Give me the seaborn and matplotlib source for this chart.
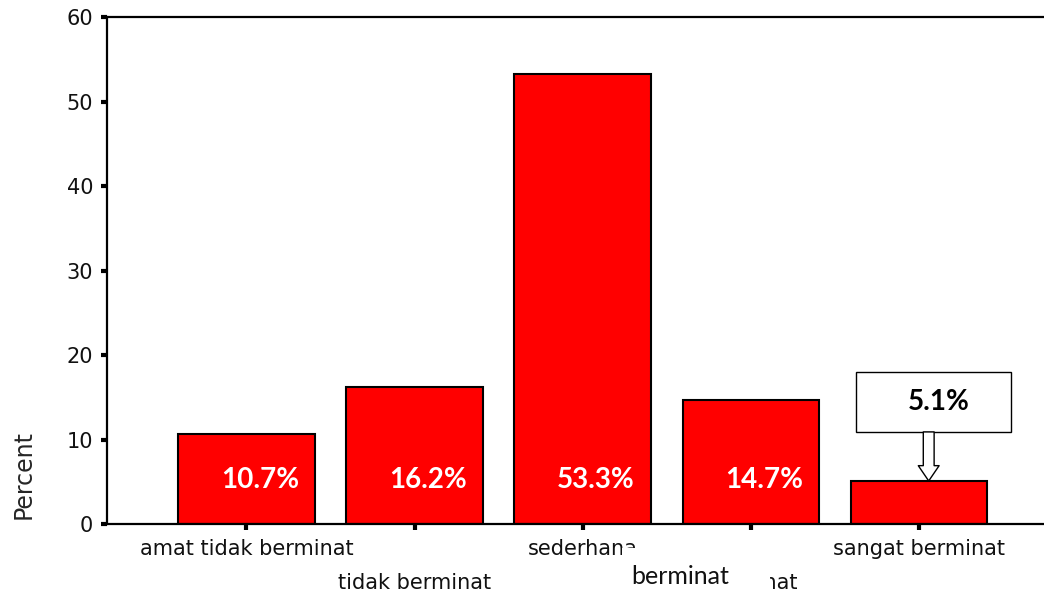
import matplotlib
matplotlib.use("Agg")
import matplotlib.pyplot as plt
import seaborn as sns
import pandas as pd
from matplotlib.patches import Rectangle, FancyArrowPatch

# data
categories = ["amat tidak berminat", "tidak berminat", "sederhana", "berminat", "sangat berminat"]
percent = [10.7, 16.2, 53.3, 14.7, 5.1]
inside_labels = ["10.7%", "16.2%", "53.3%", "14.7%"]
callout_label = "5.1%"
overlay_label = "berminat"

sns.set_style("white")
plt.rcParams['font.family'] = ['DejaVu Sans']

df = pd.DataFrame({"category": categories, "percent": percent})

fig = plt.figure(figsize=(10.44, 5.93), dpi=100)
ax = fig.add_axes([0.1025, 0.1163, 0.911, 0.855])

sns.barplot(data=df, x="category", y="percent", color="#ff0000", saturation=1,
            edgecolor="black", linewidth=1.5, width=0.81, ax=ax)

ax.set_xlim(-0.83, 4.83)
ax.set_ylim(0, 60)
ax.set_yticks(range(0, 61, 10))
ax.set_xlabel("")
ax.set_ylabel("Percent", fontsize=17)
ax.yaxis.set_label_coords(-0.075, 0.097)

for side in ["left", "bottom", "top"]:
    ax.spines[side].set_color("black")
    ax.spines[side].set_linewidth(1.6)
ax.spines["right"].set_visible(False)

ax.tick_params(axis="both", which="major", bottom=True, left=True, direction="out",
               length=4, width=3, color="black", labelsize=15, labelcolor="#111111")
ax.tick_params(axis="y", pad=6)
ax.tick_params(axis="x", pad=6.5)

# stagger the category labels
for i, tick in enumerate(ax.xaxis.get_major_ticks()):
    if i % 2 == 1:
        tick.set_pad(31)

# white percentage labels inside the bars
for i, lab in enumerate(inside_labels):
    ax.text(i + 0.08, 5.2, lab, color="white", fontsize=20, fontweight="bold",
            family=["Lato", "DejaVu Sans"], ha="center", va="center", zorder=5)

# callout box for the small bar
ax.add_patch(Rectangle((3.625, 10.9), 0.923, 7.1, facecolor="white",
                       edgecolor="black", linewidth=1, zorder=5))
ax.text(4.119, 14.44, callout_label, color="black", fontsize=20, fontweight="bold",
        family=["Lato", "DejaVu Sans"], ha="center", va="center", zorder=6)
arrow = FancyArrowPatch((4.06, 10.9), (4.06, percent[-1]),
                        arrowstyle="simple,head_length=1.1,head_width=1.5,tail_width=0.78",
                        mutation_scale=10, facecolor="white", edgecolor="black",
                        linewidth=1, shrinkA=0, shrinkB=0, zorder=6)
ax.add_patch(arrow)

# white patch with a text pasted over the bottom labels
fig.patches.append(Rectangle((0.5958, -0.01), 0.142, 0.0859, transform=fig.transFigure,
                             facecolor="white", edgecolor="none", zorder=3))
fig.text(0.6515, 0.027, overlay_label, fontsize=18, family=["Lato", "DejaVu Sans"],
         color="#111111", ha="center", va="center", zorder=4)

plt.savefig("out.png", dpi=100)
plt.close()
